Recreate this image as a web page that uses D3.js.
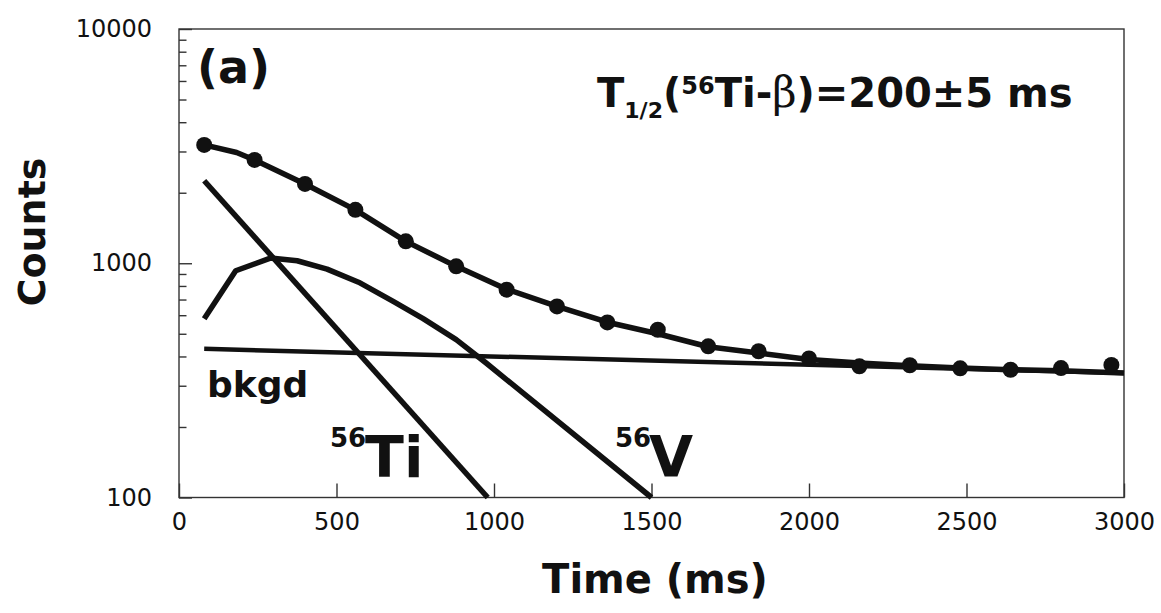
<!DOCTYPE html>
<html>
<head>
<meta charset="utf-8">
<script src="https://cdn.jsdelivr.net/npm/d3@7"></script>
<style>
  html, body { margin: 0; padding: 0; background: #fff; }
  svg { display: block; font-family: "DejaVu Sans", Verdana, sans-serif; }
</style>
</head>
<body>
<svg id="chart" width="1161" height="613"></svg>
<script>
// measured points (ms, counts)
const dataTime = [80, 240, 400, 560, 720, 880, 1040, 1200, 1360, 1520, 1680, 1840, 2000, 2160, 2320, 2480, 2640, 2800, 2960];
const dataCounts = [3200, 2760, 2180, 1690, 1240, 970, 771, 654, 559, 520, 442, 421, 392, 363, 367, 356, 351, 357, 368];

// total fit
const fitTime = [80, 183, 240, 400, 560, 720, 880, 1040, 1200, 1360, 1520, 1680, 1840, 2000, 2160, 2320, 2480, 2640, 2800, 3000];
const fitCounts = [3200, 2970, 2760, 2180, 1690, 1240, 970, 775, 655, 560, 500, 440, 414, 388, 375, 365, 357, 351, 348, 340];

// 56Ti component
const tiTime = [80, 980];
const tiCounts = [2250, 100];

// 56V component (growth + decay)
const vTime = [80, 180, 290, 375, 470, 570, 680, 775, 880, 975, 1500];
const vCounts = [580, 929, 1052, 1025, 944, 830, 687, 580, 472, 375, 100];

// background
const bkgdTime = [80, 3000];
const bkgdCounts = [431, 340];

const xTicks = [0, 500, 1000, 1500, 2000, 2500, 3000];
const yMajor = [100, 1000, 10000];
const yMinor = [200, 300, 400, 500, 600, 700, 800, 900, 2000, 3000, 4000, 5000, 6000, 7000, 8000, 9000];

const svg = d3.select('#chart');
const plotLeft = 179, plotRight = 1124, plotTop = 29, plotBottom = 497.5;

const x = d3.scaleLinear().domain([0, 3000]).range([plotLeft, plotRight]);
const y = d3.scaleLog().domain([100, 10000]).range([plotBottom, plotTop]);

const ink = '#111';

// frame
svg.append('rect')
  .attr('x', plotLeft).attr('y', plotTop)
  .attr('width', plotRight - plotLeft).attr('height', plotBottom - plotTop)
  .attr('fill', 'none').attr('stroke', '#333').attr('stroke-width', 1.4);

// x axis — ticks point inward
const xAxis = svg.append('g')
  .attr('transform', `translate(0,${plotBottom})`)
  .call(d3.axisBottom(x).tickValues(xTicks).tickFormat(d3.format('d'))
    .tickSizeInner(-14).tickSizeOuter(0).tickPadding(15));
xAxis.select('.domain').remove();
xAxis.selectAll('line').attr('stroke', '#333').attr('stroke-width', 1.4);
xAxis.selectAll('text').attr('font-size', 24).attr('fill', ink)
  .attr('font-family', '"DejaVu Sans", sans-serif');

// y axis majors
const yAxis = svg.append('g')
  .attr('transform', `translate(${plotLeft},0)`)
  .call(d3.axisLeft(y).tickValues(yMajor).tickFormat(d3.format('d'))
    .tickSizeInner(-13).tickSizeOuter(0).tickPadding(27));
yAxis.select('.domain').remove();
yAxis.selectAll('line').attr('stroke', '#333').attr('stroke-width', 1.4);
yAxis.selectAll('text').attr('font-size', 24).attr('fill', ink)
  .attr('font-family', '"DejaVu Sans", sans-serif');

// y axis minors
const yMinorAxis = svg.append('g')
  .attr('transform', `translate(${plotLeft},0)`)
  .call(d3.axisLeft(y).tickValues(yMinor).tickFormat('').tickSizeInner(-7.5).tickSizeOuter(0));
yMinorAxis.select('.domain').remove();
yMinorAxis.selectAll('line').attr('stroke', '#333').attr('stroke-width', 1.4);

// curves
const line = d3.line().x(d => x(d[0])).y(d => y(d[1]));
const curves = [
  { t: bkgdTime, c: bkgdCounts, w: 4.5 },
  { t: tiTime, c: tiCounts, w: 5.5 },
  { t: vTime, c: vCounts, w: 5.5 },
  { t: fitTime, c: fitCounts, w: 5.5 }
];
curves.forEach(s => {
  svg.append('path')
    .datum(d3.zip(s.t, s.c))
    .attr('d', line)
    .attr('fill', 'none')
    .attr('stroke', ink)
    .attr('stroke-width', s.w)
    .attr('stroke-linejoin', 'round');
});

// data points
svg.append('g').selectAll('circle')
  .data(d3.zip(dataTime, dataCounts))
  .join('circle')
  .attr('cx', d => x(d[0]))
  .attr('cy', d => y(d[1]))
  .attr('r', 8)
  .attr('fill', ink);

// axis titles
svg.append('text')
  .attr('transform', 'translate(45,232) rotate(-90)')
  .attr('text-anchor', 'middle')
  .attr('font-size', 38).attr('font-weight', 'bold').attr('fill', ink)
  .text('Counts');

svg.append('text')
  .attr('x', 655).attr('y', 593)
  .attr('text-anchor', 'middle')
  .attr('font-size', 40).attr('font-weight', 'bold').attr('fill', ink)
  .text('Time (ms)');

// panel label
svg.append('text')
  .attr('x', 197).attr('y', 83)
  .attr('font-size', 46).attr('font-weight', 'bold').attr('fill', ink)
  .text('(a)');

// half-life annotation
const ann = svg.append('text')
  .attr('x', 597).attr('y', 107)
  .attr('font-size', 40).attr('font-weight', 'bold').attr('fill', ink);
ann.append('tspan').text('T');
ann.append('tspan').attr('font-size', 22).attr('dy', 11).text('1/2');
ann.append('tspan').attr('dy', -11).text('(');
ann.append('tspan').attr('font-size', 24).attr('dy', -13).text('56');
ann.append('tspan').attr('dy', 13).text('Ti-');
ann.append('tspan').attr('font-family', '"DejaVu Serif", serif').attr('font-weight', 'normal').attr('font-size', 42).text('β');
ann.append('tspan').text(')=200±5 ms');

// component labels
svg.append('text')
  .attr('x', 207).attr('y', 397)
  .attr('font-size', 36).attr('font-weight', 'bold').attr('fill', ink)
  .text('bkgd');

const isoLabels = [
  { x: 330, sup: '56', main: 'Ti', mx: 365 },
  { x: 615, sup: '56', main: 'V', mx: 649 }
];
isoLabels.forEach(l => {
  svg.append('text')
    .attr('x', l.x).attr('y', 447)
    .attr('font-size', 26).attr('font-weight', 'bold').attr('fill', ink)
    .text(l.sup);
  svg.append('text')
    .attr('x', l.mx).attr('y', 477)
    .attr('font-size', 57).attr('font-weight', 'bold').attr('fill', ink)
    .text(l.main);
});
</script>
</body>
</html>
